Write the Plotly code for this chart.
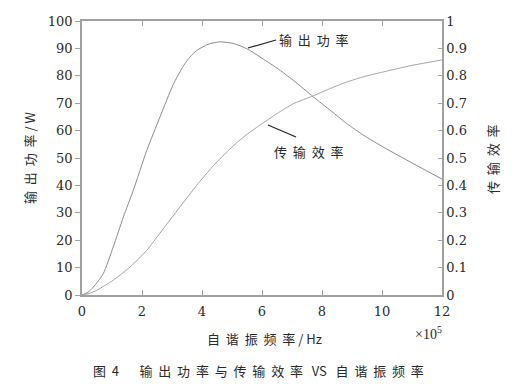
import plotly.graph_objects as go

freq_power = [0, 0.2, 0.38, 0.71, 1.04, 1.38, 1.71, 2.16, 2.6, 3.04, 3.38, 3.6, 3.82, 4.2, 4.6, 5.04, 5.49, 5.93, 6.5, 7.04, 7.71, 8.3, 8.82, 9.4, 10.04, 11.0, 12.0]
power = [0, 1.0, 2.9, 7.8, 17.5, 28.5, 38.2, 52.8, 65, 76.8, 83.6, 86.9, 89.2, 91.5, 92.4, 91.8, 89.9, 86.9, 82.8, 78.4, 72.3, 67.2, 62.6, 58.2, 54, 48.2, 42.3]

freq_eff = [0, 0.25, 0.49, 1.04, 1.6, 2.16, 2.6, 3.27, 3.82, 4.38, 4.93, 5.4, 5.93, 6.5, 7.04, 7.71, 8.3, 8.82, 9.4, 10.04, 11.0, 12.0]
eff = [0, 0.006, 0.017, 0.054, 0.102, 0.163, 0.226, 0.322, 0.400, 0.472, 0.533, 0.578, 0.62, 0.662, 0.698, 0.727, 0.755, 0.777, 0.797, 0.814, 0.838, 0.858]

xticks = [0, 2, 4, 6, 8, 10, 12]
yticks = [0, 10, 20, 30, 40, 50, 60, 70, 80, 90, 100]
y2ticks = [0, 0.1, 0.2, 0.3, 0.4, 0.5, 0.6, 0.7, 0.8, 0.9, 1]
y2ticktext = ["0", "0.1", "0.2", "0.3", "0.4", "0.5", "0.6", "0.7", "0.8", "0.9", "1"]

serif = "DejaVu Serif"
cjk = "Noto Sans CJK SC"
axcol = "#a0a0a0"
txtcol = "#2a2a2a"

L, R, T, B = 82, 78, 21, 95
W, H = 520, 390
PW, PH = W - L - R, H - T - B

fig = go.Figure()
fig.add_trace(go.Scatter(x=freq_power, y=power, mode="lines",
                         line=dict(color="#8c8c8c", width=1, shape="spline", smoothing=0.6),
                         yaxis="y", showlegend=False, hoverinfo="skip"))
fig.add_trace(go.Scatter(x=freq_eff, y=eff, mode="lines",
                         line=dict(color="#a4a4a4", width=1, shape="spline", smoothing=0.6),
                         yaxis="y2", showlegend=False, hoverinfo="skip"))

tf = dict(family=serif, size=13, color=txtcol)
fig.update_layout(
    width=W, height=H,
    margin=dict(l=L, r=R, t=T, b=B),
    plot_bgcolor="white", paper_bgcolor="white",
    xaxis=dict(range=[0, 12], tickvals=xticks, ticks="inside", ticklen=5, tickcolor=axcol,
               showline=True, linecolor=axcol, linewidth=1.5, mirror="ticks", showgrid=False, zeroline=False,
               tickfont=tf, ticklabelstandoff=4),
    yaxis=dict(range=[0, 100], tickvals=yticks, ticks="outside", ticklen=5, tickcolor=axcol,
               showline=True, linecolor=axcol, linewidth=1.5, showgrid=False, zeroline=False,
               tickfont=tf),
    yaxis2=dict(range=[0, 1], tickvals=y2ticks, ticktext=y2ticktext, overlaying="y", side="right",
                ticks="inside", ticklen=4, tickcolor=axcol,
                showline=True, linecolor=axcol, linewidth=1.5, showgrid=False, zeroline=False,
                tickfont=tf),
)


def px_to_paper(px, py):
    return (px - L) / PW, 1 - (py - T) / PH


def ann(text, px, py, font, angle=0):
    x, y = px_to_paper(px, py)
    fig.add_annotation(text=text, x=x, y=y, xref="paper", yref="paper",
                       xanchor="center", yanchor="middle", showarrow=False, font=font,
                       textangle=angle)


def spaced(s, n=2):
    return ("\u00a0" * n).join(list(s))


cf = dict(family=cjk, size=13, color=txtcol)
ann(spaced("输出功率") + "\u00a0/\u00a0W", 29, 158, cf, -90)
ann(spaced("传输效率"), 492, 160, cf, -90)
ann(spaced("自谐振频率") + "\u00a0/\u00a0Hz", 264, 338, cf)
ann("×10<sup>5</sup>", 428, 333, dict(family="Liberation Serif", size=14, color=txtcol))
ann(spaced("图") + "\u00a0\u00a0" + "4" + "\u00a0" * 7 + spaced("输出功率与传输效率") + "\u00a0\u00a0\u00a0VS\u00a0\u00a0\u00a0" + spaced("自谐振频率"),
    258, 370, cf)
ann(spaced("输出功率"), 313, 40, cf)
ann(spaced("传输效率"), 308, 151, cf)

for (x0, y0, x1, y1) in [(248, 48, 276, 40), (268, 125, 296, 137)]:
    a0 = px_to_paper(x0, y0)
    a1 = px_to_paper(x1, y1)
    fig.add_shape(type="line", xref="paper", yref="paper", x0=a0[0], y0=a0[1], x1=a1[0], y1=a1[1],
                  line=dict(color="#222", width=1.2))

fig.write_html("out.html")
